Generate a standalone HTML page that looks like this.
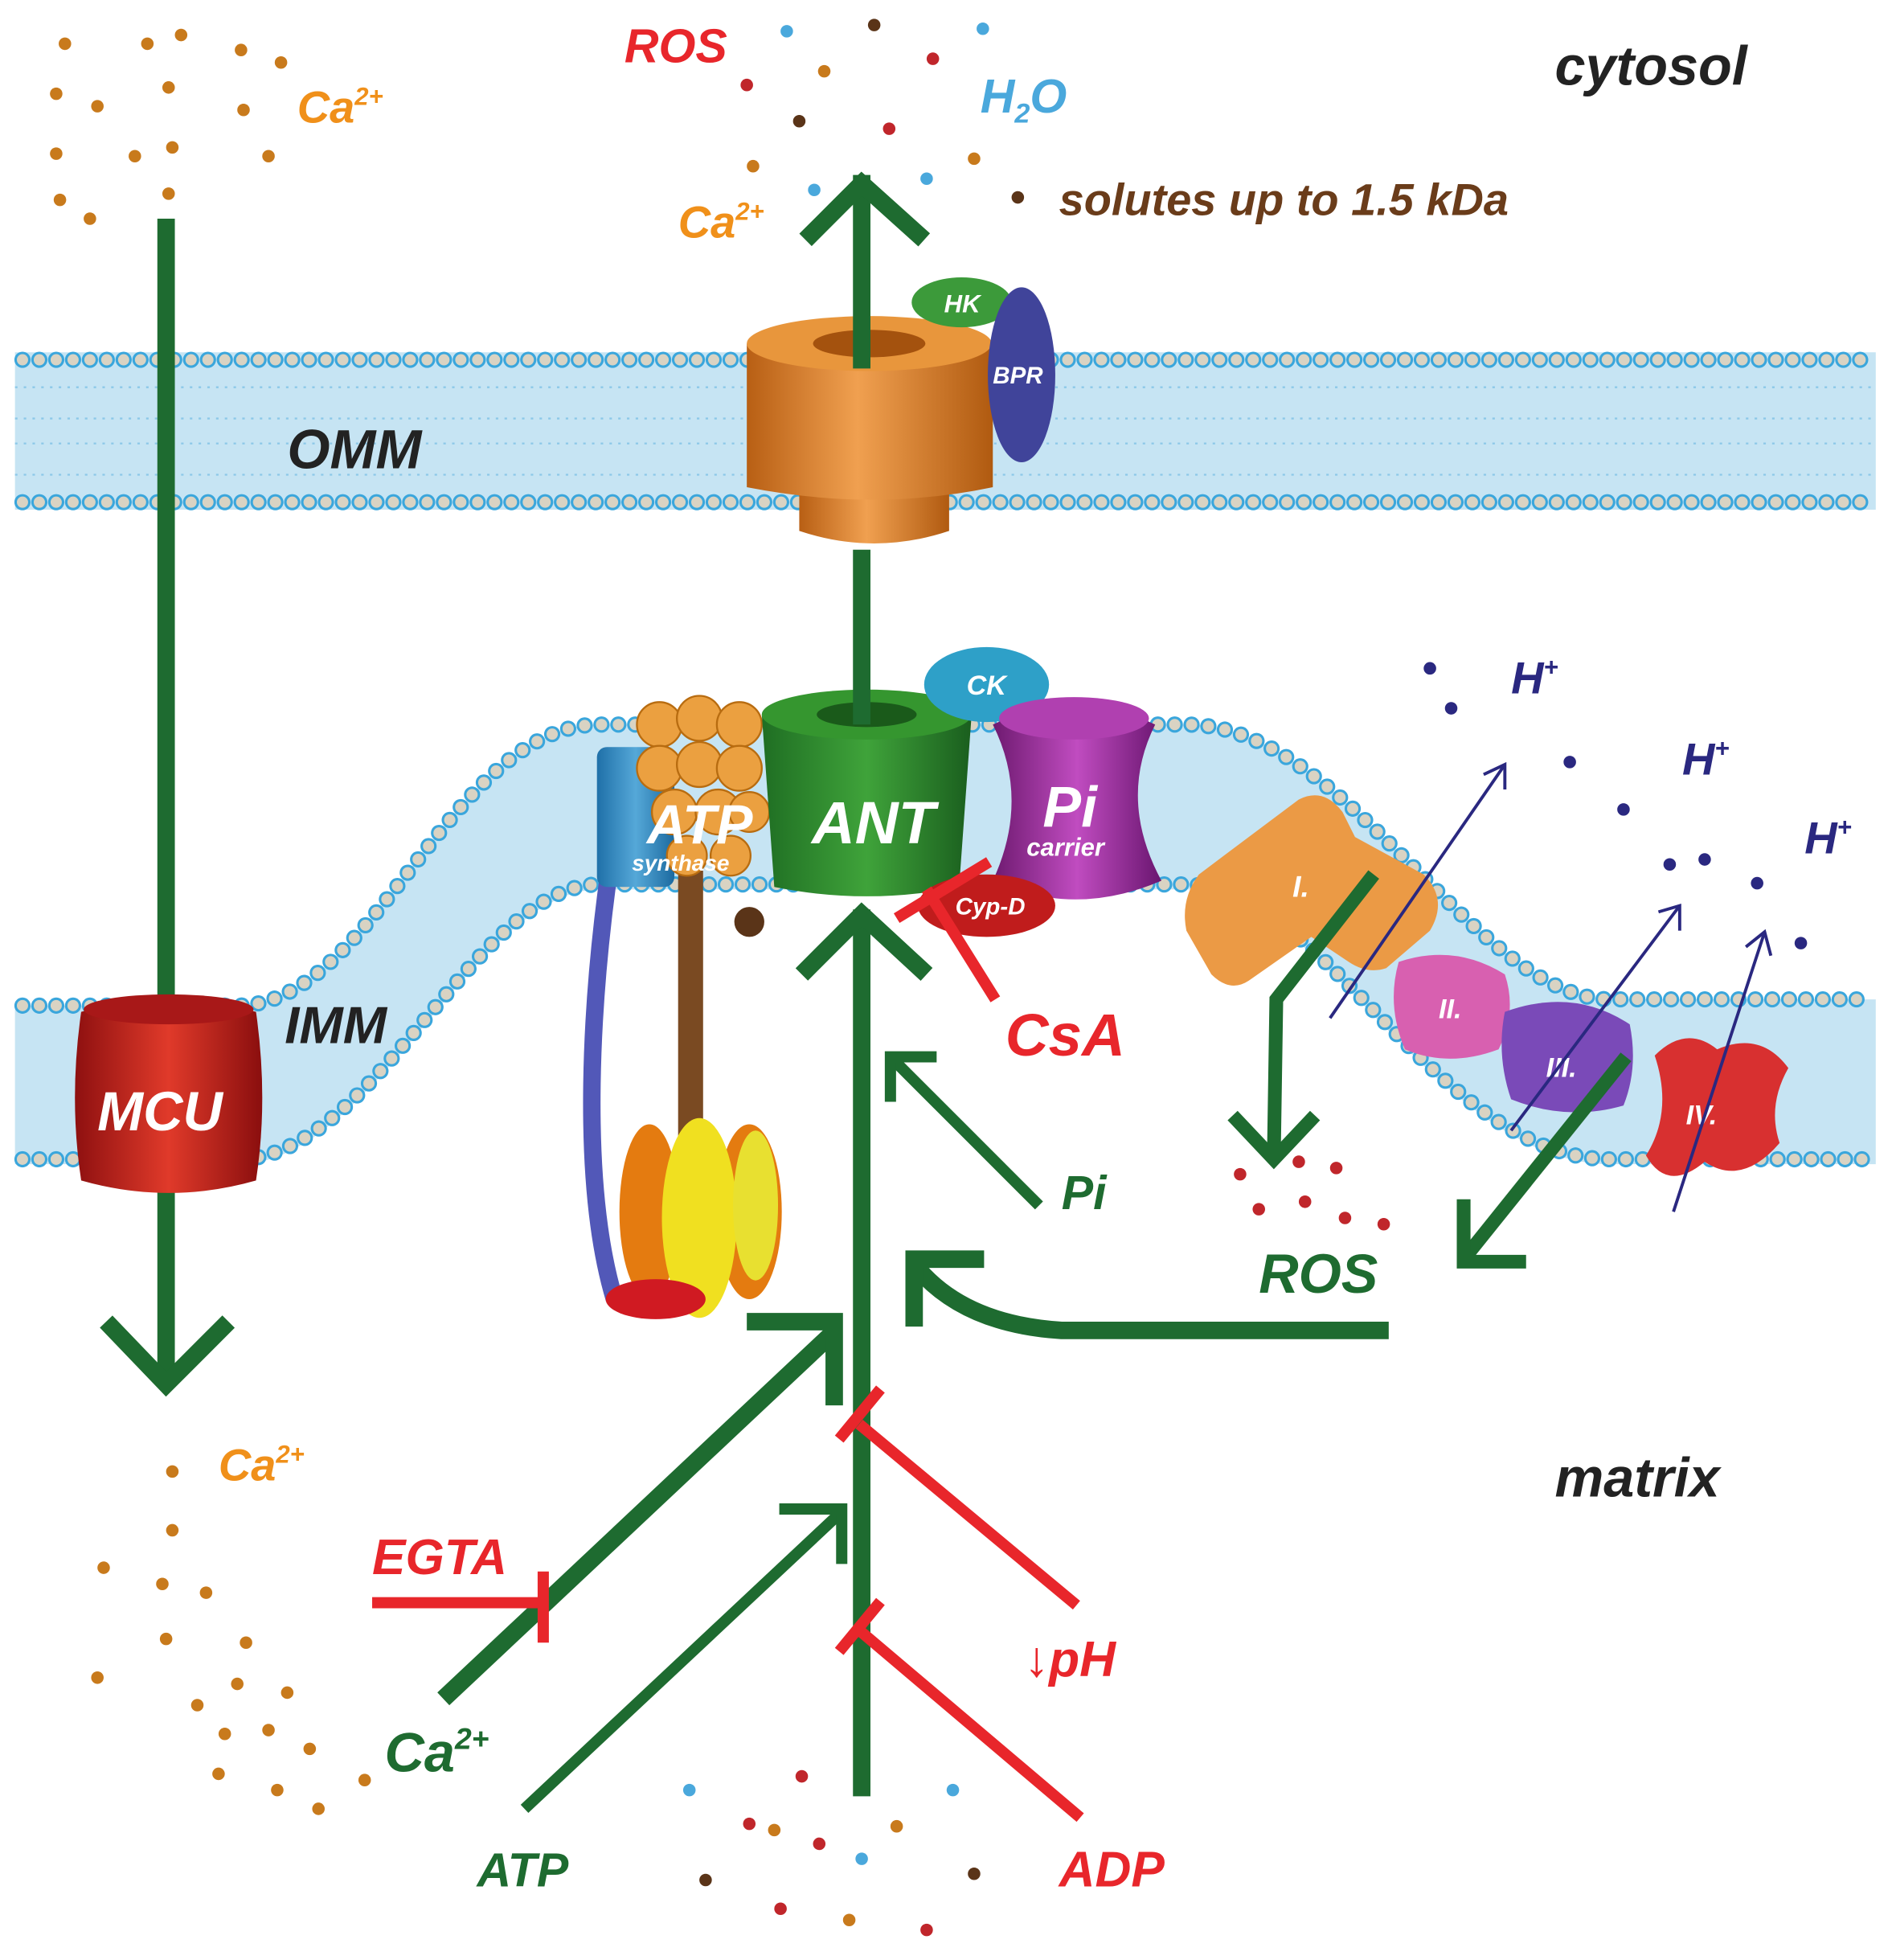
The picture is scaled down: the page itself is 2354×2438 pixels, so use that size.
<!DOCTYPE html>
<html><head><meta charset="utf-8"><style>
html,body{margin:0;padding:0;background:#fff}
svg{display:block}
text{font-family:"Liberation Sans",sans-serif;font-weight:bold;font-style:italic}
</style></head><body>
<svg width="2354" height="2438" viewBox="0 0 1515 1569" xmlns="http://www.w3.org/2000/svg">
<defs>
<linearGradient id="or" x1="0" x2="1"><stop offset="0" stop-color="#b85f14"/><stop offset=".45" stop-color="#f0a050"/><stop offset="1" stop-color="#b05a10"/></linearGradient>
<linearGradient id="gr" x1="0" x2="1"><stop offset="0" stop-color="#1f6e23"/><stop offset=".5" stop-color="#3fa33a"/><stop offset="1" stop-color="#1a5e1e"/></linearGradient>
<linearGradient id="rd" x1="0" x2="1"><stop offset="0" stop-color="#8e1010"/><stop offset=".5" stop-color="#e03a2a"/><stop offset="1" stop-color="#8a0e0e"/></linearGradient>
<linearGradient id="pu" x1="0" x2="1"><stop offset="0" stop-color="#6e1a70"/><stop offset=".5" stop-color="#c04cc0"/><stop offset="1" stop-color="#6a1670"/></linearGradient>
<linearGradient id="bl" x1="0" x2="1"><stop offset="0" stop-color="#1f70a8"/><stop offset=".5" stop-color="#55a8d8"/><stop offset="1" stop-color="#1c6aa0"/></linearGradient>
</defs>

<!-- OMM -->
<rect x="12" y="282" width="1490" height="126" fill="#c6e4f3"/>
<g stroke="#8cc8e8" stroke-width="1.5">
<line x1="12" y1="310" x2="1502" y2="310" stroke-dasharray="2 5"/>
<line x1="12" y1="335" x2="1502" y2="335" stroke-dasharray="2 5"/>
<line x1="12" y1="355" x2="1502" y2="355" stroke-dasharray="2 5"/>
<line x1="12" y1="380" x2="1502" y2="380" stroke-dasharray="2 5"/>
</g>
<g fill="none" stroke-linecap="round">
<path d="M18 288H1498" stroke="#3aa6dc" stroke-width="13" stroke-dasharray="0 13.5"/>
<path d="M18 288H1498" stroke="#d9d3c3" stroke-width="9" stroke-dasharray="0 13.5"/>
<path d="M18 402H1498" stroke="#3aa6dc" stroke-width="13" stroke-dasharray="0 13.5"/>
<path d="M18 402H1498" stroke="#d9d3c3" stroke-width="9" stroke-dasharray="0 13.5"/>
</g>

<!-- IMM -->
<path d="M12 805H190C300 805 360 580 480 580H950C1080 580 1180 800 1290 800H1502V932H1290C1150 932 1060 712 950 712H480C380 712 300 932 190 932H12Z" fill="#c6e4f3"/>
<g fill="none" stroke-linecap="round">
<path d="M18 805H190C300 805 360 580 480 580H950C1080 580 1180 800 1290 800H1498" stroke="#3aa6dc" stroke-width="13" stroke-dasharray="0 13.5"/>
<path d="M18 805H190C300 805 360 580 480 580H950C1080 580 1180 800 1290 800H1498" stroke="#d9d3c3" stroke-width="9" stroke-dasharray="0 13.5"/>
<path d="M18 928H190C300 928 380 708 480 708H950C1060 708 1150 928 1290 928H1498" stroke="#3aa6dc" stroke-width="13" stroke-dasharray="0 13.5"/>
<path d="M18 928H190C300 928 380 708 480 708H950C1060 708 1150 928 1290 928H1498" stroke="#d9d3c3" stroke-width="9" stroke-dasharray="0 13.5"/>
</g>

<!-- labels membranes -->
<text x="230" y="375" font-size="44" fill="#222">OMM</text>
<text x="228" y="835" font-size="42" fill="#222">IMM</text>
<text x="1245" y="68" font-size="44" fill="#222">cytosol</text>
<text x="1245" y="1198" font-size="44" fill="#222">matrix</text>

<!-- MCU line -->
<g stroke="#1e6b30" stroke-width="14" fill="none" stroke-linecap="butt">
<line x1="133" y1="175" x2="133" y2="1108"/>
<polyline points="85,1058 133,1108 183,1058"/>
</g>
<!-- MCU -->
<path d="M65 810Q135 790 205 810Q215 880 205 945Q135 965 65 945Q55 880 65 810Z" fill="url(#rd)"/>
<ellipse cx="135" cy="808" rx="68" ry="12" fill="#a81818"/>
<text x="78" y="905" font-size="44" fill="#fff">MCU</text>

<!-- ATP synthase -->
<path d="M495 650C470 800 465 950 492 1040" stroke="#5258b8" stroke-width="14" fill="none"/>
<rect x="543" y="695" width="20" height="225" fill="#7a4a22"/>
<circle cx="600" cy="738" r="12" fill="#5a3418"/>
<ellipse cx="520" cy="970" rx="24" ry="70" fill="#e47b10"/>
<ellipse cx="600" cy="970" rx="26" ry="70" fill="#e47b10"/>
<ellipse cx="560" cy="975" rx="30" ry="80" fill="#f0e020"/>
<ellipse cx="605" cy="965" rx="18" ry="60" fill="#e8e030"/>
<ellipse cx="525" cy="1040" rx="40" ry="16" fill="#d01a22"/>
<rect x="478" y="598" width="62" height="112" rx="8" fill="url(#bl)"/>
<g fill="#eba040" stroke="#b86c10" stroke-width="1.5">
<circle cx="528" cy="580" r="18"/><circle cx="560" cy="575" r="18"/><circle cx="592" cy="580" r="18"/>
<circle cx="528" cy="615" r="18"/><circle cx="560" cy="612" r="18"/><circle cx="592" cy="615" r="18"/>
<circle cx="540" cy="650" r="18"/><circle cx="575" cy="650" r="18"/><circle cx="600" cy="650" r="16"/>
<circle cx="550" cy="685" r="16"/><circle cx="585" cy="685" r="16"/>
</g>
<text x="518" y="675" font-size="44" fill="#fff">ATP</text>
<text x="506" y="697" font-size="18" fill="#fff">synthase</text>

<!-- VDAC -->
<path d="M640 360H760V425Q700 445 640 425Z" fill="url(#or)"/>
<path d="M598 275H795V390Q700 410 598 390Z" fill="url(#or)"/>
<ellipse cx="696" cy="275" rx="98" ry="22" fill="#e8963c"/>
<ellipse cx="696" cy="275" rx="45" ry="11" fill="#a4520e"/>
<ellipse cx="770" cy="242" rx="40" ry="20" fill="#3c9a3a"/>
<text x="756" y="250" font-size="20" fill="#fff">HK</text>
<ellipse cx="818" cy="300" rx="27" ry="70" fill="#40449a"/>
<text x="795" y="307" font-size="19" fill="#fff">BPR</text>

<!-- ANT -->
<path d="M610 572H778L768 710Q694 725 620 710Z" fill="url(#gr)"/>
<ellipse cx="694" cy="572" rx="84" ry="20" fill="#35962f"/>
<ellipse cx="694" cy="572" rx="40" ry="10" fill="#1a5a1a"/>
<text x="650" y="675" font-size="48" fill="#fff">ANT</text>
<ellipse cx="790" cy="548" rx="50" ry="30" fill="#2ea0c8"/>
<text x="774" y="556" font-size="22" fill="#fff">CK</text>
<path d="M795 580Q860 550 925 580Q895 640 930 705Q860 735 795 705Q825 640 795 580Z" fill="url(#pu)"/>
<ellipse cx="860" cy="575" rx="60" ry="17" fill="#b040b0"/>
<text x="835" y="662" font-size="46" fill="#fff">Pi</text>
<text x="822" y="685" font-size="20" fill="#fff">carrier</text>
<ellipse cx="790" cy="725" rx="55" ry="25" fill="#c01c1c"/>
<text x="765" y="732" font-size="19" fill="#fff">Cyp-D</text>

<!-- green center line -->
<g stroke="#1e6b30" stroke-width="14" fill="none">
<line x1="690" y1="140" x2="690" y2="295"/>
<polyline points="645,192 690,147 740,192"/>
<line x1="690" y1="440" x2="690" y2="580"/>
<line x1="690" y1="1438" x2="690" y2="728"/>
<polyline points="642,780 690,732 742,780"/>
<line x1="355" y1="1360" x2="668" y2="1066"/>
<polyline points="598,1058 668,1058 668,1125"/>
<path d="M1112 1065H850Q770 1060 732 1012"/>
<polyline points="732,1062 732,1008 788,1008"/>
</g>
<g stroke="#1e6b30" stroke-width="9" fill="none">
<line x1="832" y1="965" x2="713" y2="846"/>
<polyline points="713,882 713,846 750,846"/>
<line x1="420" y1="1448" x2="674" y2="1210"/>
<polyline points="624,1208 674,1208 674,1252"/>
</g>

<!-- complexes -->
<path d="M960 700L1040 640Q1060 630 1075 650L1085 670L1140 700Q1160 720 1145 745L1110 775Q1095 780 1080 770L1050 750L1000 785Q985 795 970 780L950 745Q945 720 960 700Z" fill="#eb9a45"/>
<path d="M1120 770Q1165 755 1205 780Q1215 810 1200 840Q1160 855 1125 840Q1110 805 1120 770Z" fill="#d860b0"/>
<path d="M1205 810Q1260 790 1305 820Q1312 855 1300 885Q1255 898 1210 880Q1198 845 1205 810Z" fill="#7a4ab8"/>
<path d="M1325 845Q1350 820 1375 840Q1410 825 1432 855Q1415 885 1425 915Q1395 950 1365 930Q1335 955 1318 925Q1340 890 1325 845Z" fill="#d83030"/>
<text x="1035" y="718" font-size="24" fill="#fff">I.</text>
<text x="1152" y="815" font-size="22" fill="#fff">II.</text>
<text x="1238" y="862" font-size="22" fill="#fff">III.</text>
<text x="1350" y="900" font-size="22" fill="#fff">IV.</text>
<g stroke="#1e6b30" stroke-width="11" fill="none">
<polyline points="1100,700 1022,800 1020,928"/>
<polyline points="987,893 1020,928 1053,893"/>
<line x1="1302" y1="846" x2="1172" y2="1008"/>
<polyline points="1172,960 1172,1010 1222,1010"/>
</g>
<g stroke="#2a2880" stroke-width="2.5" fill="none">
<line x1="1065" y1="815" x2="1205" y2="612"/><polyline points="1188,620 1205,612 1205,632"/>
<line x1="1210" y1="905" x2="1345" y2="725"/><polyline points="1328,730 1345,725 1345,745"/>
<line x1="1340" y1="970" x2="1413" y2="746"/><polyline points="1398,758 1413,746 1418,765"/>
</g>
<g fill="#2a2880">
<circle cx="1145" cy="535" r="5"/><circle cx="1162" cy="567" r="5"/><circle cx="1257" cy="610" r="5"/><circle cx="1300" cy="648" r="5"/>
<circle cx="1337" cy="692" r="5"/><circle cx="1365" cy="688" r="5"/><circle cx="1407" cy="707" r="5"/><circle cx="1442" cy="755" r="5"/>
</g>
<text x="1210" y="555" font-size="36" fill="#2a2880">H<tspan font-size="20" dy="-14">+</tspan></text>
<text x="1347" y="620" font-size="36" fill="#2a2880">H<tspan font-size="20" dy="-14">+</tspan></text>
<text x="1445" y="683" font-size="36" fill="#2a2880">H<tspan font-size="20" dy="-14">+</tspan></text>

<!-- red inhibitors -->
<g stroke="#e8262b" stroke-width="9" fill="none">
<line x1="797" y1="800" x2="742" y2="712"/>
<line x1="718" y1="735" x2="792" y2="690"/>
<line x1="298" y1="1283" x2="435" y2="1283"/>
<line x1="435" y1="1258" x2="435" y2="1315"/>
<line x1="862" y1="1285" x2="688" y2="1140"/>
<line x1="672" y1="1152" x2="705" y2="1112"/>
<line x1="865" y1="1455" x2="688" y2="1305"/>
<line x1="672" y1="1322" x2="705" y2="1282"/>
</g>
<text x="805" y="845" font-size="48" fill="#e8262b">CsA</text>
<text x="298" y="1260" font-size="40" fill="#e8262b">EGTA</text>
<text x="820" y="1342" font-size="40" fill="#e8262b">↓pH</text>
<text x="848" y="1510" font-size="40" fill="#e8262b">ADP</text>
<text x="500" y="50" font-size="38" fill="#e8262b">ROS</text>

<text x="850" y="968" font-size="38" fill="#1e6b30">Pi</text>
<text x="1008" y="1035" font-size="44" fill="#1e6b30">ROS</text>
<text x="308" y="1418" font-size="44" fill="#1e6b30">Ca<tspan font-size="24" dy="-18">2+</tspan></text>
<text x="382" y="1510" font-size="38" fill="#1e6b30">ATP</text>

<text x="238" y="98" font-size="36" fill="#f0901a">Ca<tspan font-size="20" dy="-14">2+</tspan></text>
<text x="543" y="190" font-size="36" fill="#f0901a">Ca<tspan font-size="20" dy="-14">2+</tspan></text>
<text x="175" y="1185" font-size="36" fill="#f0901a">Ca<tspan font-size="20" dy="-14">2+</tspan></text>
<text x="785" y="90" font-size="38" fill="#4aa8dc">H<tspan font-size="22" dy="8">2</tspan><tspan dy="-8">O</tspan></text>
<text x="848" y="172" font-size="36" fill="#6a3c1a">solutes up to 1.5 kDa</text>

<!-- dots -->
<g fill="#c87a1c">
<circle cx="52" cy="35" r="5"/><circle cx="118" cy="35" r="5"/><circle cx="145" cy="28" r="5"/><circle cx="193" cy="40" r="5"/><circle cx="225" cy="50" r="5"/>
<circle cx="45" cy="75" r="5"/><circle cx="78" cy="85" r="5"/><circle cx="135" cy="70" r="5"/><circle cx="195" cy="88" r="5"/>
<circle cx="45" cy="123" r="5"/><circle cx="108" cy="125" r="5"/><circle cx="138" cy="118" r="5"/><circle cx="215" cy="125" r="5"/>
<circle cx="48" cy="160" r="5"/><circle cx="72" cy="175" r="5"/><circle cx="135" cy="155" r="5"/>
<circle cx="603" cy="133" r="5"/><circle cx="780" cy="127" r="5"/><circle cx="660" cy="57" r="5"/>
<circle cx="138" cy="1178" r="5"/><circle cx="138" cy="1225" r="5"/><circle cx="83" cy="1255" r="5"/><circle cx="130" cy="1268" r="5"/><circle cx="165" cy="1275" r="5"/>
<circle cx="133" cy="1312" r="5"/><circle cx="197" cy="1315" r="5"/><circle cx="78" cy="1343" r="5"/><circle cx="190" cy="1348" r="5"/><circle cx="230" cy="1355" r="5"/>
<circle cx="158" cy="1365" r="5"/><circle cx="180" cy="1388" r="5"/><circle cx="215" cy="1385" r="5"/><circle cx="248" cy="1400" r="5"/>
<circle cx="175" cy="1420" r="5"/><circle cx="222" cy="1433" r="5"/><circle cx="292" cy="1425" r="5"/><circle cx="255" cy="1448" r="5"/>
<circle cx="620" cy="1465" r="5"/><circle cx="718" cy="1462" r="5"/><circle cx="680" cy="1537" r="5"/>
</g>
<g fill="#c0262b">
<circle cx="598" cy="68" r="5"/><circle cx="747" cy="47" r="5"/><circle cx="712" cy="103" r="5"/>
<circle cx="993" cy="940" r="5"/><circle cx="1040" cy="930" r="5"/><circle cx="1070" cy="935" r="5"/><circle cx="1008" cy="968" r="5"/><circle cx="1045" cy="962" r="5"/><circle cx="1077" cy="975" r="5"/><circle cx="1108" cy="980" r="5"/>
<circle cx="642" cy="1422" r="5"/><circle cx="600" cy="1460" r="5"/><circle cx="656" cy="1476" r="5"/><circle cx="625" cy="1528" r="5"/><circle cx="742" cy="1545" r="5"/>
</g>
<g fill="#4aa8dc">
<circle cx="630" cy="25" r="5"/><circle cx="787" cy="23" r="5"/><circle cx="652" cy="152" r="5"/><circle cx="742" cy="143" r="5"/>
<circle cx="552" cy="1433" r="5"/><circle cx="763" cy="1433" r="5"/><circle cx="690" cy="1488" r="5"/>
</g>
<g fill="#5a3418">
<circle cx="700" cy="20" r="5"/><circle cx="640" cy="97" r="5"/><circle cx="815" cy="158" r="5"/>
<circle cx="565" cy="1505" r="5"/><circle cx="780" cy="1500" r="5"/>
</g>
</svg>
</body></html>
